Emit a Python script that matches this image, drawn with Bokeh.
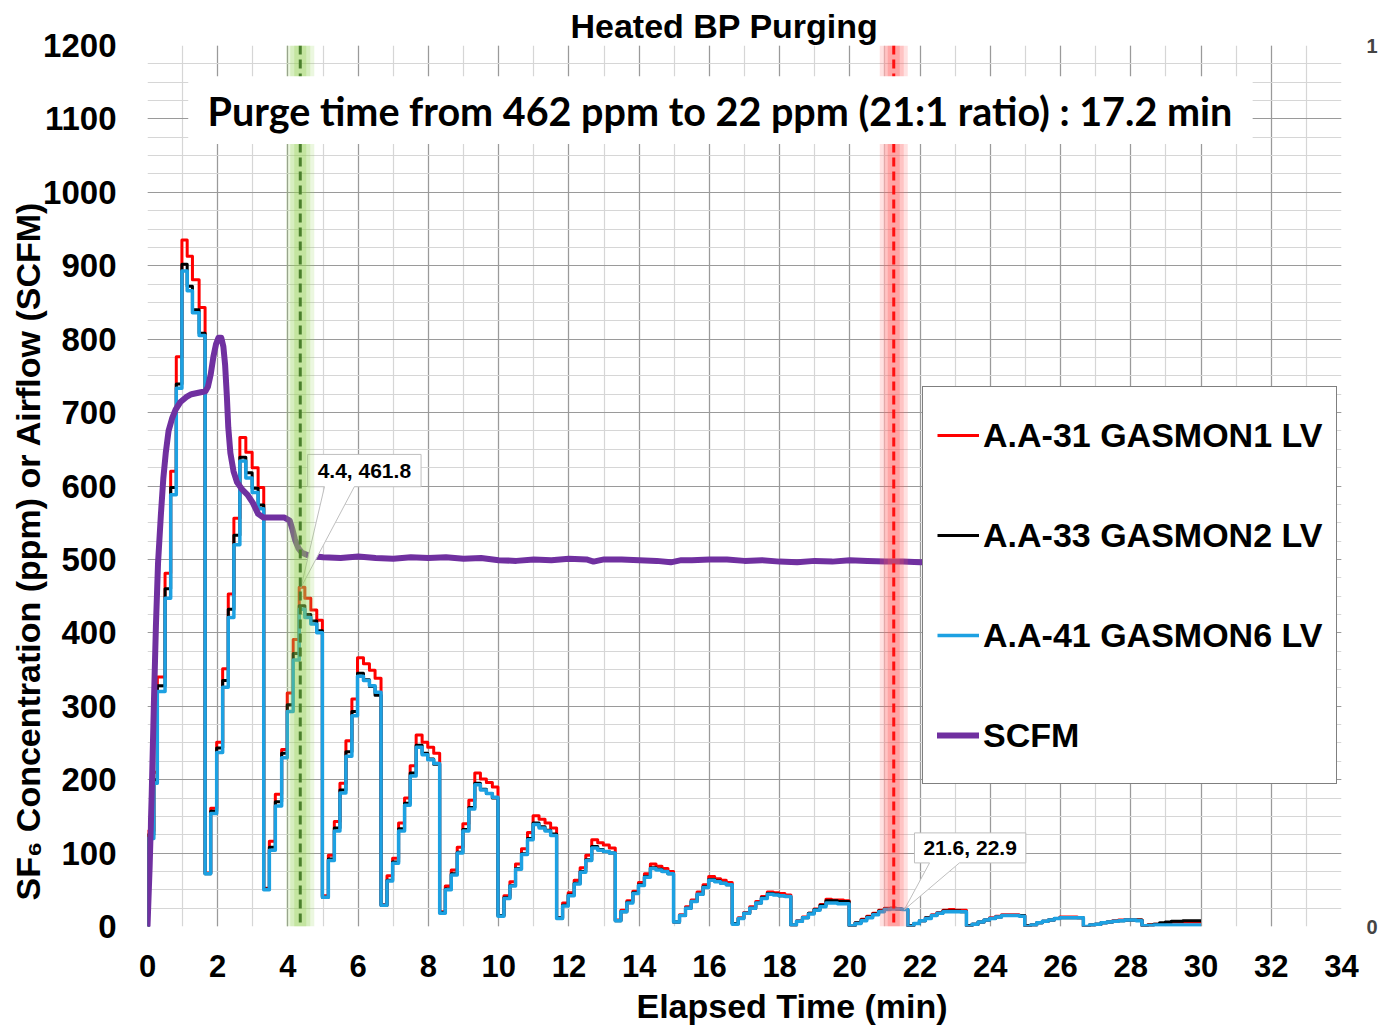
from bokeh.plotting import figure
from bokeh.models import (Range1d, LinearAxis, SingleIntervalTicker, FixedTicker,
                          Span, BoxAnnotation, Label, Title)
from bokeh.core.properties import value
from bokeh.embed import file_html
from bokeh.resources import INLINE

# ---------------- data ----------------
TITLE = "Heated BP Purging"
X_LABEL = "Elapsed Time (min)"
Y_LABEL = "SF\u2086 Concentration (ppm) or Airflow (SCFM)"
NOTE = "Purge time from 462 ppm to 22 ppm (21:1 ratio) : 17.2 min"
SERIES_NAMES = ["A.A-31 GASMON1 LV", "A.A-33 GASMON2 LV", "A.A-41 GASMON6 LV", "SCFM"]

# step times (min), one row per purge cycle
T_STEPS = [
    [0.00, 0.02, 0.18, 0.28, 0.50, 0.66, 0.82, 0.98, 1.13, 1.28, 1.47],
    [1.64, 1.80, 1.97, 2.14, 2.30, 2.46, 2.63, 2.80, 2.98, 3.15],
    [3.31, 3.47, 3.64, 3.82, 3.98, 4.15, 4.32, 4.48, 4.65, 4.82],
    [4.98, 5.15, 5.32, 5.48, 5.65, 5.82, 5.98, 6.15, 6.32, 6.48],
    [6.65, 6.82, 6.98, 7.15, 7.32, 7.48, 7.65, 7.82, 7.98, 8.15],
    [8.32, 8.48, 8.65, 8.82, 8.98, 9.15, 9.32, 9.48, 9.65, 9.82],
    [9.98, 10.15, 10.32, 10.48, 10.65, 10.82, 10.98, 11.15, 11.32, 11.48],
    [11.65, 11.82, 11.98, 12.15, 12.32, 12.48, 12.65, 12.82, 12.98, 13.15],
    [13.32, 13.48, 13.65, 13.82, 13.98, 14.15, 14.32, 14.48, 14.65, 14.82],
    [14.98, 15.15, 15.32, 15.48, 15.65, 15.82, 15.98, 16.15, 16.32, 16.48],
    [16.65, 16.82, 16.98, 17.15, 17.32, 17.48, 17.65, 17.82, 17.98, 18.15],
    [18.32, 18.48, 18.65, 18.82, 18.98, 19.15, 19.32, 19.48, 19.65, 19.82],
    [19.98, 20.15, 20.32, 20.48, 20.65, 20.82, 20.98, 21.15, 21.32, 21.48],
    [21.65, 21.82, 21.98, 22.15, 22.32, 22.48, 22.65, 22.82, 22.98, 23.15],
    [23.32, 23.48, 23.65, 23.82, 23.98, 24.15, 24.32, 24.48, 24.65, 24.82],
    [24.98, 25.15, 25.32, 25.48, 25.65, 25.82, 25.98, 26.15, 26.32, 26.48],
    [26.65, 26.82, 26.98, 27.15, 27.32, 27.48, 27.65, 27.82, 27.98, 28.15],
    [28.32, 28.48, 28.65, 28.82, 28.98, 29.15, 29.32, 29.48, 29.65, 29.82, 30.00],
]

GASMON1 = [
    [0, 130, 210, 340, 481, 620, 776, 935, 913, 881, 843],
    [73, 161, 251, 351, 453, 556, 666, 646, 625, 598],
    [52, 116, 180, 241, 318, 391, 462, 447, 431, 417],
    [42, 97, 143, 195, 253, 310, 366, 358, 349, 338],
    [30, 69, 93, 141, 175, 219, 261, 251, 244, 236],
    [20, 55, 77, 108, 140, 172, 209, 201, 196, 190],
    [15, 42, 61, 85, 106, 128, 151, 146, 141, 134],
    [12, 32, 46, 63, 80, 97, 118, 114, 111, 107],
    [9, 22, 35, 48, 60, 72, 85, 82, 79, 75],
    [6, 16, 27, 36, 47, 57, 68, 65, 63, 60],
    [4, 12, 19, 27, 34, 41, 47, 46, 45, 43],
    [2, 8, 13, 18, 24, 30, 37, 36, 36, 35],
    [1, 5, 10, 14, 18, 22, 25, 25, 24, 23],
    [1, 4, 8, 12, 16, 19, 22, 23, 22, 22],
    [1, 3, 6, 9, 12, 14, 16, 16, 16, 15],
    [1, 2, 5, 7, 9, 11, 13, 13, 13, 12],
    [0, 2, 3, 5, 6, 8, 9, 9, 9, 9],
    [1, 2, 3, 4, 5, 6, 6, 6, 6, 6, 6],
]

GASMON2 = [
    [0, 125, 200, 328, 460, 598, 739, 902, 872, 840, 808],
    [72, 157, 243, 335, 432, 533, 639, 618, 597, 574],
    [51, 108, 170, 236, 302, 372, 437, 425, 416, 403],
    [40, 92, 134, 186, 238, 293, 345, 336, 327, 315],
    [29, 63, 88, 133, 168, 209, 247, 236, 228, 221],
    [19, 51, 72, 101, 132, 162, 195, 187, 181, 175],
    [15, 39, 56, 79, 99, 120, 141, 136, 131, 126],
    [12, 29, 43, 59, 75, 91, 109, 105, 102, 100],
    [8, 20, 33, 46, 57, 68, 80, 78, 75, 72],
    [6, 15, 25, 34, 44, 54, 64, 62, 59, 57],
    [4, 11, 18, 25, 32, 39, 45, 44, 42, 41],
    [2, 7, 12, 18, 23, 29, 35, 35, 34, 34],
    [1, 5, 9, 13, 17, 21, 24, 25, 24, 23],
    [1, 4, 8, 12, 15, 18, 21, 21, 21, 20],
    [1, 3, 6, 9, 11, 13, 15, 15, 15, 15],
    [1, 2, 5, 7, 9, 11, 12, 12, 12, 12],
    [0, 2, 3, 5, 6, 7, 8, 9, 9, 9],
    [1, 2, 3, 5, 6, 7, 7, 8, 8, 8, 8],
]

GASMON6 = [
    [0, 120, 195, 320, 447, 588, 733, 893, 866, 836, 805],
    [72, 154, 237, 326, 421, 520, 634, 611, 591, 569],
    [50, 104, 164, 230, 293, 363, 432, 421, 412, 400],
    [40, 90, 130, 182, 232, 287, 341, 335, 328, 319],
    [29, 62, 86, 130, 165, 205, 244, 234, 227, 222],
    [18, 50, 70, 100, 130, 160, 193, 186, 181, 176],
    [14, 38, 55, 78, 98, 118, 139, 134, 130, 124],
    [11, 28, 42, 58, 74, 90, 107, 104, 102, 100],
    [8, 20, 32, 45, 56, 67, 79, 77, 75, 72],
    [6, 15, 25, 34, 44, 53, 63, 61, 59, 57],
    [3, 11, 18, 25, 32, 38, 44, 43, 42, 41],
    [2, 7, 12, 17, 22, 27, 32, 32, 31, 31],
    [1, 4, 8, 12, 16, 20, 23, 24, 24, 23],
    [0, 4, 8, 11, 15, 18, 20, 20, 20, 20],
    [0, 3, 6, 9, 11, 13, 15, 15, 15, 14],
    [0, 2, 5, 7, 9, 11, 12, 12, 12, 12],
    [0, 2, 3, 5, 6, 7, 8, 9, 9, 8],
    [1, 1, 2, 2, 2, 2, 2, 2, 2, 2, 2],
]

SCFM_T = [0.00, 0.06, 0.12, 0.18, 0.24, 0.30, 0.38, 0.45, 0.52, 0.60, 0.70, 0.80, 0.93,
          1.10, 1.25, 1.45, 1.65, 1.72, 1.80, 1.88, 1.95, 2.02, 2.10, 2.16, 2.21, 2.26,
          2.30, 2.36, 2.45, 2.55, 2.70, 2.85, 3.00, 3.15, 3.30, 3.60, 3.90, 4.05, 4.12,
          4.20, 4.30, 4.40, 4.55, 4.80, 5.00, 5.50, 6.00, 6.50, 7.00, 7.50, 8.00, 8.50,
          9.00, 9.50, 10.00, 10.50, 11.00, 11.50, 12.00, 12.50, 12.70, 13.00, 13.50,
          14.00, 14.50, 14.90, 15.20, 15.50, 16.00, 16.50, 17.00, 17.50, 18.00, 18.50,
          19.00, 19.50, 20.00, 20.50, 21.00, 21.50, 22.00, 23.00, 24.00, 25.00, 26.00,
          27.00, 28.00, 29.00, 30.00]
SCFM_V = [0, 80, 180, 300, 410, 495, 560, 610, 645, 675, 692, 704, 714,
          721, 725, 727, 729, 735, 752, 777, 793, 802, 802, 790, 765, 722,
          680, 645, 620, 605, 595, 588, 577, 562, 557, 557, 557, 553, 542,
          527, 515, 509, 506, 504, 503, 502, 504, 502, 501, 503, 502, 503,
          501, 502, 499, 498, 500, 499, 501, 500, 497, 500, 500,
          499, 498, 496, 499, 499, 500, 500, 498, 499, 497, 496,
          498, 497, 499, 498, 497, 497, 496, 497, 496, 497, 496,
          497, 496, 497, 496]

# data labels (time, ppm) and purge markers (min)
MARK_T = [4.4, 21.6]
MARK_V = [461.8, 22.9]
START_LINE = 4.35
END_LINE = 21.25

# ---------------- helpers ----------------
def flat(rows):
    return [v for r in rows for v in r]

def stairs(ts, vs):
    xs, ys = [], []
    for i in range(len(ts)):
        xs.append(ts[i]); ys.append(vs[i])
        if i + 1 < len(ts):
            xs.append(ts[i + 1]); ys.append(vs[i])
    return xs, ys

FONT = "Liberation Sans"

p = figure(width=1380, height=1031, output_backend="svg", toolbar_location=None,
           x_range=Range1d(0, 34), y_range=Range1d(0, 1200), title=None,
           min_border_left=147, min_border_right=33, min_border_top=45,
           min_border_bottom=105, background_fill_color="white",
           border_fill_color="white")
p.outline_line_color = None

# axes
p.xaxis.ticker = SingleIntervalTicker(interval=2, num_minor_ticks=2)
p.yaxis.ticker = SingleIntervalTicker(interval=100, num_minor_ticks=4)
for ax in (p.xaxis[0], p.yaxis[0]):
    ax.axis_line_color = None
    ax.major_tick_line_color = None
    ax.minor_tick_line_color = None
    ax.major_label_text_font = FONT
    ax.major_label_text_font_style = "bold"
    ax.major_label_text_color = "black"
p.xaxis.major_label_text_font_size = "31px"
p.yaxis.major_label_text_font_size = "33px"
p.xaxis.major_label_standoff = 22
p.yaxis.major_label_standoff = 25

p.xgrid.ticker = p.xaxis[0].ticker
p.ygrid.ticker = p.yaxis[0].ticker
for g in (p.xgrid[0], p.ygrid[0]):
    g.grid_line_color = "#9a9a9a"
    g.grid_line_width = 1.2
    g.minor_grid_line_color = "#d6d6d6"
    g.minor_grid_line_width = 1.2

p.extra_y_ranges = {"r": Range1d(0, 1)}
ax2 = LinearAxis(y_range_name="r", ticker=FixedTicker(ticks=[0, 1]))
ax2.axis_line_color = None
ax2.major_tick_line_color = None
ax2.minor_tick_line_color = None
ax2.major_label_text_font = FONT
ax2.major_label_text_font_style = "bold"
ax2.major_label_text_font_size = "20px"
ax2.major_label_standoff = 19
p.add_layout(ax2, "right")

# title and axis labels (as side-panel titles so they can be offset)
p.add_layout(Title(text=TITLE, align="left", offset=423, standoff=0,
                   vertical_align="middle",
                   text_font=FONT, text_font_style="bold", text_font_size="34px",
                   text_color="black"), "above")
p.add_layout(Title(text=X_LABEL, align="left", offset=489, standoff=10,
                   text_font=FONT, text_font_style="bold", text_font_size="34px",
                   text_color="black"), "below")
p.add_layout(Title(text=Y_LABEL, align="left", offset=26, standoff=-12,
                   text_font=FONT, text_font_style="bold", text_font_size="34px",
                   text_color="black"), "left")

# series
tt = flat(T_STEPS)
colors = ["#ff0000", "#000000", "#1da1e2"]
widths = [3, 3, 3.5]
for name, rows, c, w in zip(SERIES_NAMES[:3], [GASMON1, GASMON2, GASMON6], colors, widths):
    xs, ys = stairs(tt, flat(rows))
    p.line(xs, ys, line_color=c, line_width=w, line_join="round", legend_label=name)

p.line(SCFM_T, SCFM_V, line_color="#7030a0", line_width=6, line_join="round",
       line_cap="round", legend_label=SERIES_NAMES[3])

# callouts for the data labels
call_boxes = [(4.56, 7.79, 599, 643, 5.04, 5.89), (21.84, 25.01, 86.6, 127.5, 22.27, 23.12)]
for (x0, x1, y0, y1, b0, b1), mt, mv in zip(call_boxes, MARK_T, MARK_V):
    ax_ = mt - 0.03 if mt < 10 else mt - 0.05
    p.patch([x0, x1, x1, b1, ax_, b0, x0], [y1, y1, y0, y0, mv, y0, y0],
            fill_color="white", line_color="#bfbfbf", line_width=1)
    p.text(x=[(x0 + x1) / 2], y=[(y0 + y1) / 2], text=[f"{mt}, {mv}"],
           text_font=value(FONT), text_font_style="bold", text_font_size="21px",
           text_align="center", text_baseline="middle", text_color="black")

# glowing marker lines
for loc, glow, dash_c in ((START_LINE, "#92d050", "#4a7f2c"), (END_LINE, "#ff5b5b", "#ff1010")):
    for w, a in ((28, 0.18), (20, 0.22), (12, 0.28)):
        p.add_layout(Span(location=loc, dimension="height", line_color=glow,
                          line_width=w, line_alpha=a))
    p.add_layout(Span(location=loc, dimension="height", line_color=dash_c,
                      line_width=3, line_dash="9 5"))

# purge-time note
p.add_layout(BoxAnnotation(left=1.16, right=31.47, bottom=1066, top=1158,
                           fill_color="white", fill_alpha=1, line_alpha=0))
p.add_layout(Label(x=16.3, y=1112, text=NOTE, text_font="Lato", text_font_style="bold",
                   text_font_size="39.5px", text_align="center", text_baseline="middle",
                   text_color="black"))

# legend
lg = p.legend[0]
lg.location = (775, 142)
lg.label_text_font = FONT
lg.label_text_font_style = "bold"
lg.label_text_font_size = "34px"
lg.label_text_color = "black"
lg.glyph_width = 42
lg.glyph_height = 68
lg.label_height = 68
lg.spacing = 32
lg.padding = 14
lg.margin = 0
lg.label_standoff = 4
lg.border_line_color = "black"
lg.border_line_width = 1
lg.background_fill_alpha = 1

open("out.html", "w").write(file_html(p, INLINE))
